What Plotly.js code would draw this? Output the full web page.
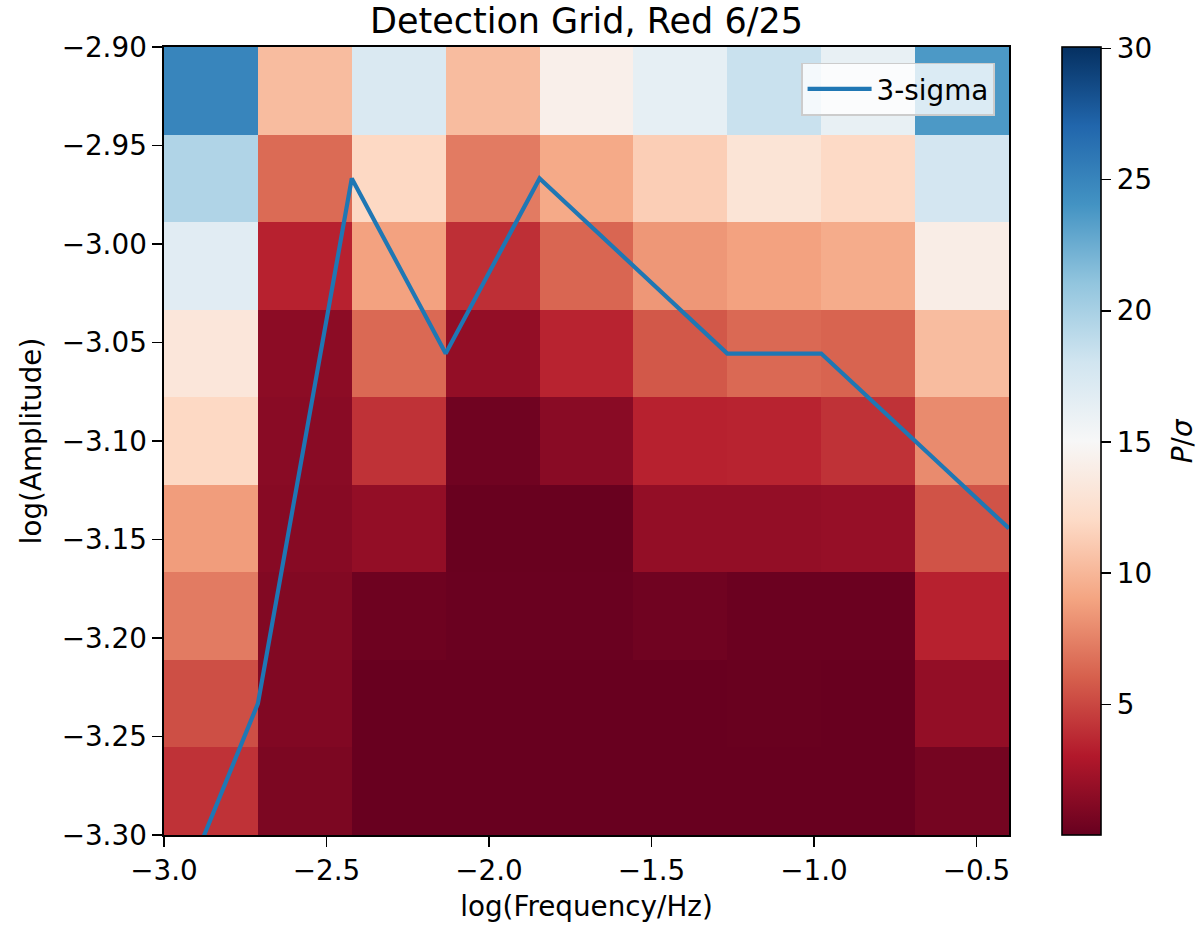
<!DOCTYPE html>
<html>
<head>
<meta charset="utf-8">
<script src="https://cdn.plot.ly/plotly-3.0.1.min.js"></script>
<style>
  html, body { margin: 0; padding: 0; background: #ffffff; }
  #chart { width: 1201px; height: 934px; }
</style>
</head>
<body>
<div id="chart"></div>
<script>
// Bin edges of the detection grid
const freqEdges = [-3.0, -2.7111, -2.4222, -2.1333, -1.8444, -1.5556, -1.2667, -0.9778, -0.6889, -0.4];
const ampEdges  = [-3.3, -3.2556, -3.2111, -3.1667, -3.1222, -3.0778, -3.0333, -2.9889, -2.9444, -2.9];

// P/sigma per amplitude row (bottom row first), one value per frequency bin
const rowAmp0 = [4.1, 0.85, 0.05, 0.05, 0.05, 0.05, 0.05, 0.05, 0.6];
const rowAmp1 = [5.3, 1.05, 0.05, 0.05, 0.05, 0.08, 0.1, 0.08, 1.8];
const rowAmp2 = [7.2, 1.1, 0.3, 0.15, 0.15, 0.4, 0.2, 0.2, 3.4];
const rowAmp3 = [8.7, 1.3, 1.8, 0.12, 0.12, 1.8, 1.8, 1.9, 5.5];
const rowAmp4 = [11.9, 1.4, 4.1, 0.4, 1.4, 3.4, 3.5, 4.1, 7.9];
const rowAmp5 = [13.2, 1.5, 6.4, 1.8, 3.5, 5.7, 6.4, 6.2, 10.3];
const rowAmp6 = [16.8, 3.4, 8.9, 4.0, 6.3, 8.4, 8.9, 9.4, 14.0];
const rowAmp7 = [19.6, 6.5, 11.9, 7.2, 9.3, 11.3, 13.0, 12.0, 17.8];
const rowAmp8 = [25.0, 10.3, 17.3, 10.3, 14.2, 16.4, 18.4, 16.2, 23.7];

// 3-sigma detection threshold line
const sigmaX = [-3.0, -2.7111, -2.4222, -2.1333, -1.8444, -1.5556, -1.2667, -0.9778, -0.6889, -0.4];
const sigmaY = [-3.35, -3.2333, -2.9667, -3.0556, -2.9667, -3.0111, -3.0556, -3.0556, -3.1, -3.1444];

const xTicks = [-3.0, -2.5, -2.0, -1.5, -1.0, -0.5];
const yTicks = [-3.30, -3.25, -3.20, -3.15, -3.10, -3.05, -3.00, -2.95, -2.90];
const cbTicks = [5, 10, 15, 20, 25, 30];

const zGrid = [rowAmp0, rowAmp1, rowAmp2, rowAmp3, rowAmp4, rowAmp5, rowAmp6, rowAmp7, rowAmp8];

const rdbu = [
  [0.0, '#67001f'], [0.1, '#b2182b'], [0.2, '#d6604d'], [0.3, '#f4a582'],
  [0.4, '#fddbc7'], [0.5, '#f7f7f7'], [0.6, '#d1e5f0'], [0.7, '#92c5de'],
  [0.8, '#4393c3'], [0.9, '#2166ac'], [1.0, '#053061']
];

const FONT = 'DejaVu Sans, Liberation Sans, sans-serif';
const FS = 27.8;

const heat = {
  type: 'heatmap',
  x: freqEdges,
  y: ampEdges,
  z: zGrid,
  colorscale: rdbu,
  zmin: 0.02,
  zmax: 30.05,
  showlegend: false,
  hoverinfo: 'skip',
  colorbar: {
    thickness: 39, thicknessmode: 'pixels',
    len: 1, lenmode: 'fraction',
    x: 1.0627, xanchor: 'left', xref: 'paper',
    y: 0.5, yanchor: 'middle', yref: 'paper',
    xpad: 0, ypad: 0,
    outlinewidth: 1.6, outlinecolor: '#000000',
    ticks: 'outside', ticklen: 10, tickwidth: 1.6, tickcolor: '#000000',
    tickvals: cbTicks,
    tickfont: { family: FONT, size: FS, color: '#000000' }
  }
};

const line = {
  type: 'scatter',
  mode: 'lines',
  x: sigmaX,
  y: sigmaY,
  name: '3-sigma',
  line: { color: '#1f77b4', width: 4.2 },
  hoverinfo: 'skip'
};

const axisCommon = {
  showgrid: false, zeroline: false,
  showline: true, mirror: true, linecolor: '#000000', linewidth: 1.6,
  ticks: 'outside', ticklen: 10, tickwidth: 1.6, tickcolor: '#000000',
  tickfont: { family: FONT, size: FS, color: '#000000' }
};

const layout = {
  width: 1201, height: 934,
  margin: { l: 164, r: 192, t: 47, b: 99 },
  paper_bgcolor: '#ffffff', plot_bgcolor: '#ffffff',
  font: { family: FONT, size: FS, color: '#000000' },
  title: {
    text: 'Detection Grid, Red 6/25',
    font: { family: FONT, size: 35, color: '#000000' },
    xref: 'paper', x: 0.5, xanchor: 'center',
    yref: 'container', y: 0.978, yanchor: 'middle'
  },
  xaxis: Object.assign({}, axisCommon, {
    range: [-3.0, -0.4],
    tickvals: xTicks, tickformat: '.1f',
    title: { text: 'log(Frequency/Hz)', font: { family: FONT, size: FS }, standoff: 10 }
  }),
  yaxis: Object.assign({}, axisCommon, {
    range: [-3.3, -2.9],
    tickvals: yTicks, tickformat: '.2f',
    title: { text: 'log(Amplitude)', font: { family: FONT, size: FS }, standoff: 12 }
  }),
  legend: {
    x: 0.9834, xanchor: 'right', y: 0.98, yanchor: 'top',
    bgcolor: 'rgba(255,255,255,0.8)', bordercolor: '#cccccc', borderwidth: 1.6,
    font: { family: FONT, size: FS, color: '#000000' },
    itemwidth: 64
  },
  showlegend: true,
  annotations: [{
    text: '<i>P</i>/<i>σ</i>',
    xref: 'paper', yref: 'paper',
    x: 1.205, y: 0.5, xanchor: 'center', yanchor: 'middle',
    textangle: -90, showarrow: false,
    font: { family: FONT, size: FS, color: '#000000' }
  }]
};

Plotly.newPlot('chart', [heat, line], layout, { displayModeBar: false, staticPlot: true });
</script>
</body>
</html>
